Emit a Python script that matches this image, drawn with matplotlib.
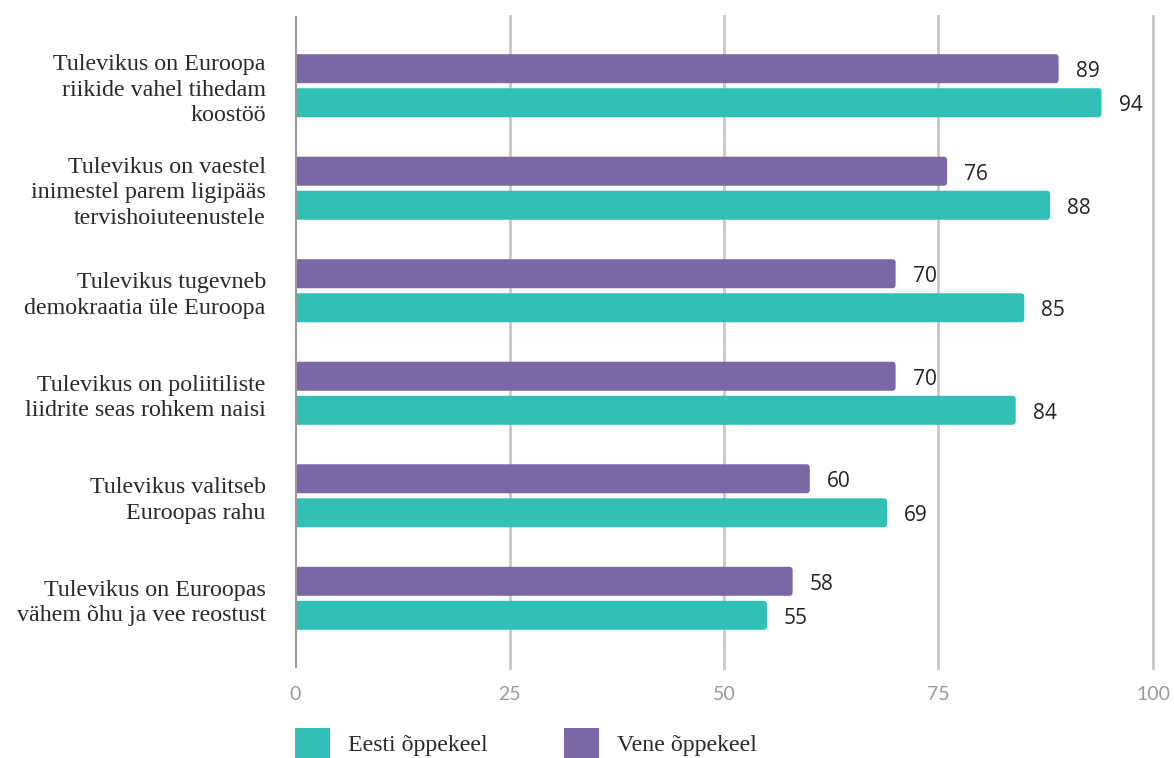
import numpy as np
import matplotlib.pyplot as plt
from matplotlib.patches import FancyBboxPatch, Rectangle

categories = [
    "Tulevikus on Euroopa\nriikide vahel tihedam\nkoostöö",
    "Tulevikus on vaestel\ninimestel parem ligipääs\ntervishoiuteenustele",
    "Tulevikus tugevneb\ndemokraatia üle Euroopa",
    "Tulevikus on poliitiliste\nliidrite seas rohkem naisi",
    "Tulevikus valitseb\nEuroopas rahu",
    "Tulevikus on Euroopas\nvähem õhu ja vee reostust",
]
eesti = [94, 88, 85, 84, 69, 55]
vene = [89, 76, 70, 70, 60, 58]
series_names = ["Eesti õppekeel", "Vene õppekeel"]
xticks = [0, 25, 50, 75, 100]

teal = "#31bfb6"
purple = "#7b67a6"

fig = plt.figure(figsize=(11.74, 7.58), dpi=100)
ax = fig.add_axes([0.2513, 0.1187, 0.7308, 0.8602])

y = np.arange(len(categories))
h = 0.283
off = 0.166

bars_v = ax.barh(y - off, vene, height=h, color=purple)
bars_e = ax.barh(y + off, eesti, height=h, color=teal)

# swap plain rectangles for slightly rounded ones
for b in list(bars_v) + list(bars_e):
    x0, y0 = b.get_x(), b.get_y()
    w, hh = b.get_width(), b.get_height()
    rb = FancyBboxPatch((x0, y0), w, hh,
                        boxstyle="round,pad=0,rounding_size=0.4",
                        mutation_aspect=0.0836,
                        facecolor=b.get_facecolor(), edgecolor="none", zorder=2)
    b.set_visible(False)
    ax.add_patch(rb)

for yi, v in zip(y - off, vene):
    ax.text(v + 2.0, yi + 0.03, str(v), va="center", ha="left", fontsize=15,
            family="Open Sans", color="#222222")
for yi, v in zip(y + off, eesti):
    ax.text(v + 2.0, yi + 0.03, str(v), va="center", ha="left", fontsize=15,
            family="Open Sans", color="#222222")

ax.set_xlim(0, 100)
ax.set_ylim(5.68, -0.68)
ax.set_yticks(y)
ax.set_yticklabels(categories, family="Liberation Serif", fontsize=17.3,
                   color="#2a2a2a", linespacing=1.28)
ax.tick_params(axis="y", length=0, pad=21)
ax.set_xticks(xticks)
ax.set_xticklabels([str(t) for t in xticks], family="Lato", fontsize=14,
                   color="#9a9a9a")
ax.tick_params(axis="x", length=0, pad=13)

for t in xticks[1:]:
    ax.axvline(t, color="#c8c8c8", lw=2, zorder=1, clip_on=False)
ax.axvline(0, color="#999999", lw=2.2, zorder=3)

for s in ax.spines.values():
    s.set_visible(False)

# legend boxes along the bottom edge
W, H = 1174, 758
for x0, col, name in [(295, teal, series_names[0]), (564, purple, series_names[1])]:
    fig.patches.append(Rectangle((x0 / W, 0), 35 / W, 30 / H, transform=fig.transFigure,
                                 facecolor=col, edgecolor="none"))
    fig.text((x0 + 53) / W, 12 / H, name, family="Liberation Serif", fontsize=17.2,
             color="#2a2a2a", va="center", ha="left")

fig.savefig("out.png", dpi=100)
